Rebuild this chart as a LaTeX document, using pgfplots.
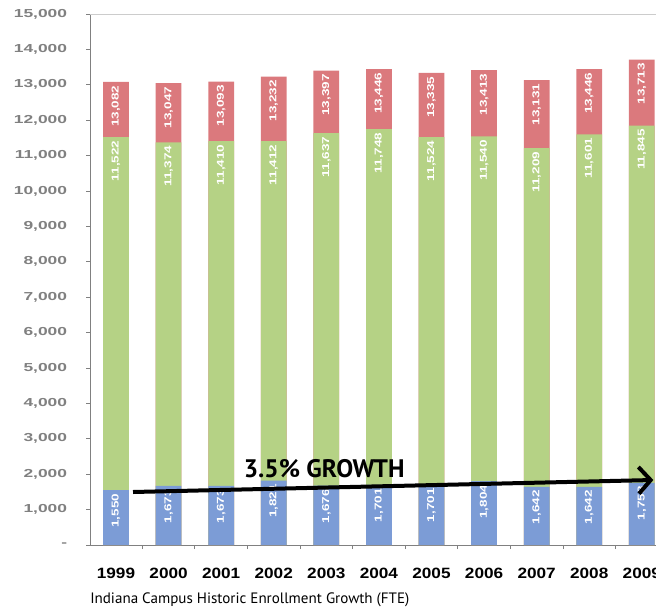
\documentclass[border=0pt]{standalone}
\usepackage{pgfplots}
\pgfplotsset{compat=1.18}
\usepackage{pgfplotstable}
\usepackage{fontspec}
\setmainfont{Liberation Sans}
\newfontfamily\wideA[FakeStretch=1.5]{Liberation Sans}
\newfontfamily\wideB[FakeStretch=1.15]{Liberation Sans}
\newfontfamily\wideC[FakeStretch=1.35]{Liberation Sans}
\newfontfamily\capfont{PT Sans}
\usetikzlibrary{arrows.meta,calc}
\definecolor{cblue}{RGB}{124,156,214}
\definecolor{cgreen}{RGB}{181,210,133}
\definecolor{cred}{RGB}{219,121,125}
\definecolor{ctick}{RGB}{128,128,128}

% b = blue segment, c = blue+green (cumulative), t = total; labels as printed
\pgfplotstableread{
x b c t bl cl tl
0 1550 11522 13082 1,550 11,522 13,082
1 1673 11374 13047 1,673 11,374 13,047
2 1673 11410 13093 1,673 11,410 13,093
3 1821 11412 13232 1,821 11,412 13,232
4 1676 11637 13397 1,676 11,637 13,397
5 1701 11748 13446 1,701 11,748 13,446
6 1701 11524 13335 1,701 11,524 13,335
7 1804 11540 13413 1,804 11,540 13,413
8 1642 11209 13131 1,642 11,209 13,131
9 1642 11601 13446 1,642 11,601 13,446
10 1758 11845 13713 1,758 11,845 13,713
}\enroll

\begin{document}
\begin{tikzpicture}
\begin{axis}[
  set layers,
  scale only axis, width=424.5pt, height=398.25pt,
  ybar, bar shift=0pt, bar width=0.49,
  xmin=-0.494, xmax=10.27, ymin=0, ymax=15000,
  axis x line*=bottom, axis y line*=left,
  axis line style={draw=ctick, line width=0.6pt},
  xtick={0,...,10},
  xticklabels={1999,2000,2001,2002,2003,2004,2005,2006,2007,2008,2009},
  major x tick style={draw=none},
  minor xtick={0.5,1.5,...,9.5},
  ytick={0,1000,...,15000},
  yticklabels={-,{1,000},{2,000},{3,000},{4,000},{5,000},{6,000},{7,000},{8,000},{9,000},{10,000},{11,000},{12,000},{13,000},{14,000},{15,000}},
  tick align=outside,
  major tick length=3pt, minor tick length=3pt,
  tick style={draw=ctick, line width=0.6pt},
  yticklabel style={font=\wideA\bfseries\fontsize{8.7}{10}\selectfont, text=ctick, inner sep=0pt, xshift=-14pt},
  xticklabel style={font=\wideB\bfseries\fontsize{11.2}{12}\selectfont, text=black, yshift=-11pt},
  point meta=explicit symbolic,
  nodes near coords,
  nodes near coords style={rotate=90, anchor=east, inner sep=2.5pt,
     font=\wideC\bfseries\fontsize{7.5}{8}\selectfont, text=white},
]
\addplot[fill=cred, draw=none] table[x=x, y=t, meta=tl] {\enroll};
\addplot[fill=cgreen, draw=none] table[x=x, y=c, meta=cl] {\enroll};
\addplot[fill=cblue, draw=none] table[x=x, y=b, meta=bl] {\enroll};
\draw[ctick!40, line width=0.6pt] (rel axis cs:0,1) -- (rel axis cs:1,1);
\begin{pgfonlayer}{axis foreground}
\draw[line width=3pt, -{Straight Barb[length=9pt,width=20pt]}] (axis cs:0.324,1497) -- (axis cs:10.22,1836);
\node[anchor=base, font=\capfont\bfseries\fontsize{19}{20}\selectfont] at (axis cs:3.96,1893) {3.5\% GROWTH};
\end{pgfonlayer}
\end{axis}
\node[anchor=base west, inner sep=0pt, font=\capfont\fontsize{11.3}{13}\selectfont] at ($(current axis.south west)+(0pt,-43.5pt)$) {Indiana Campus Historic Enrollment Growth (FTE)};
\pgfresetboundingbox
\path[use as bounding box] ($(current axis.south west)+(-67.5pt,-48.75pt)$) rectangle ++(492pt,457.5pt);
\end{tikzpicture}
\end{document}
